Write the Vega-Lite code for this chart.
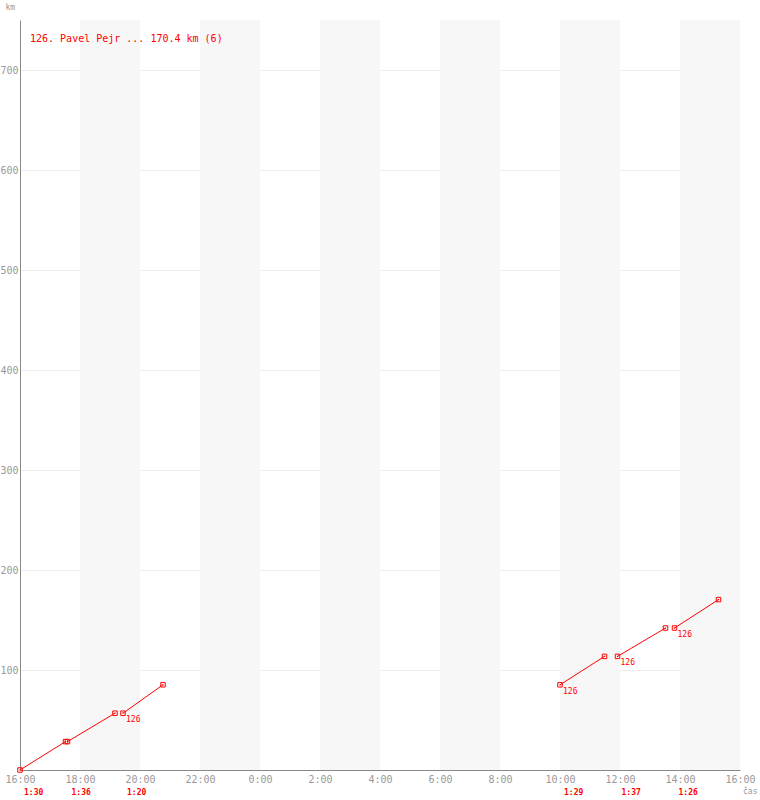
{
  "$schema": "https://vega.github.io/schema/vega-lite/v6.json",
  "width": 720,
  "height": 750,
  "autosize": {"type": "none"},
  "padding": {"left": 20, "top": 20, "right": 20, "bottom": 30},
  "background": "white",
  "config": {
    "font": "DejaVu Sans Mono",
    "view": {"stroke": null}
  },
  "title": {
    "text": "126. Pavel Pejr ... 170.4 km (6)",
    "anchor": "start",
    "frame": "group",
    "offset": -41,
    "dx": 10,
    "font": "DejaVu Sans Mono",
    "fontSize": 10,
    "fontWeight": "normal",
    "color": "#ff0000"
  },
  "datasets": {
    "bands": [
      {"time": "2024-05-04T18:00:00Z", "end": "2024-05-04T20:00:00Z"},
      {"time": "2024-05-04T22:00:00Z", "end": "2024-05-05T00:00:00Z"},
      {"time": "2024-05-05T02:00:00Z", "end": "2024-05-05T04:00:00Z"},
      {"time": "2024-05-05T06:00:00Z", "end": "2024-05-05T08:00:00Z"},
      {"time": "2024-05-05T10:00:00Z", "end": "2024-05-05T12:00:00Z"},
      {"time": "2024-05-05T14:00:00Z", "end": "2024-05-05T16:00:00Z"}
    ],
    "track": [
      {"lap": 1, "time": "2024-05-04T16:00:00Z", "km": 0},
      {"lap": 1, "time": "2024-05-04T17:31:00Z", "km": 28.4},
      {"lap": 2, "time": "2024-05-04T17:35:00Z", "km": 28.4},
      {"lap": 2, "time": "2024-05-04T19:10:00Z", "km": 56.8},
      {"lap": 3, "time": "2024-05-04T19:26:00Z", "km": 56.8},
      {"lap": 3, "time": "2024-05-04T20:46:00Z", "km": 85.2},
      {"lap": 4, "time": "2024-05-05T10:00:00Z", "km": 85.2},
      {"lap": 4, "time": "2024-05-05T11:29:00Z", "km": 113.6},
      {"lap": 5, "time": "2024-05-05T11:55:00Z", "km": 113.6},
      {"lap": 5, "time": "2024-05-05T13:31:00Z", "km": 142},
      {"lap": 6, "time": "2024-05-05T13:49:00Z", "km": 142},
      {"lap": 6, "time": "2024-05-05T15:17:00Z", "km": 170.4}
    ],
    "restarts": [
      {"time": "2024-05-04T19:26:00Z", "km": 56.8, "label": "126"},
      {"time": "2024-05-05T10:00:00Z", "km": 85.2, "label": "126"},
      {"time": "2024-05-05T11:55:00Z", "km": 113.6, "label": "126"},
      {"time": "2024-05-05T13:49:00Z", "km": 142, "label": "126"}
    ],
    "laps": [
      {"time": "2024-05-04T16:00:00Z", "duration": "1:30"},
      {"time": "2024-05-04T17:35:00Z", "duration": "1:36"},
      {"time": "2024-05-04T19:26:00Z", "duration": "1:20"},
      {"time": "2024-05-05T10:00:00Z", "duration": "1:29"},
      {"time": "2024-05-05T11:55:00Z", "duration": "1:37"},
      {"time": "2024-05-05T13:49:00Z", "duration": "1:26"}
    ]
  },
  "encoding": {
    "x": {
      "field": "time",
      "type": "temporal",
      "scale": {
        "type": "utc",
        "domain": [
          {"year": 2024, "month": 5, "date": 4, "hours": 16, "utc": true},
          {"year": 2024, "month": 5, "date": 5, "hours": 16, "utc": true}
        ]
      },
      "axis": {
        "title": "čas",
        "titleFont": "DejaVu Sans Mono",
        "titleFontSize": 8,
        "titleFontWeight": "normal",
        "titleColor": "#999999",
        "titleAlign": "right",
        "titleX": 737,
        "titleY": 17,
        "labelExpr": "utcFormat(datum.value, '%-H:%M')",
        "values": [
          {"year": 2024, "month": 5, "date": 4, "hours": 16, "utc": true},
          {"year": 2024, "month": 5, "date": 4, "hours": 18, "utc": true},
          {"year": 2024, "month": 5, "date": 4, "hours": 20, "utc": true},
          {"year": 2024, "month": 5, "date": 4, "hours": 22, "utc": true},
          {"year": 2024, "month": 5, "date": 5, "hours": 0, "utc": true},
          {"year": 2024, "month": 5, "date": 5, "hours": 2, "utc": true},
          {"year": 2024, "month": 5, "date": 5, "hours": 4, "utc": true},
          {"year": 2024, "month": 5, "date": 5, "hours": 6, "utc": true},
          {"year": 2024, "month": 5, "date": 5, "hours": 8, "utc": true},
          {"year": 2024, "month": 5, "date": 5, "hours": 10, "utc": true},
          {"year": 2024, "month": 5, "date": 5, "hours": 12, "utc": true},
          {"year": 2024, "month": 5, "date": 5, "hours": 14, "utc": true},
          {"year": 2024, "month": 5, "date": 5, "hours": 16, "utc": true}
        ],
        "ticks": false,
        "grid": false,
        "domainColor": "#888888",
        "labelFont": "DejaVu Sans Mono",
        "labelFontSize": 10,
        "labelColor": "#999999",
        "labelPadding": 4,
        "labelDx": 4,
        "labelOverlap": false,
        "labelBound": false,
        "labelFlush": false
      }
    }
  },
  "layer": [
    {
      "data": {"name": "bands"},
      "mark": {"type": "rect", "color": "#f7f7f7"},
      "encoding": {
        "x2": {"field": "end"}
      }
    },
    {
      "data": {"name": "track"},
      "mark": {"type": "line", "color": "#ff0000", "strokeWidth": 1},
      "encoding": {
        "y": {
          "field": "km",
          "type": "quantitative",
          "scale": {"domain": [0, 750], "nice": false},
          "axis": {
            "title": "km",
            "titleFont": "DejaVu Sans Mono",
            "titleFontSize": 8,
            "titleFontWeight": "normal",
            "titleColor": "#999999",
            "titleAngle": 0,
            "titleAlign": "left",
            "titleBaseline": "middle",
            "titleX": -15,
            "titleY": -13,
            "values": [100, 200, 300, 400, 500, 600, 700],
            "ticks": false,
            "grid": true,
            "gridColor": "#eeeeee",
            "domainColor": "#888888",
            "labelFont": "DejaVu Sans Mono",
            "labelFontSize": 10,
            "labelColor": "#999999",
            "labelPadding": 2
          }
        },
        "detail": {"field": "lap", "type": "nominal"}
      }
    },
    {
      "data": {"name": "track"},
      "mark": {"type": "point", "shape": "square", "size": 20, "filled": false, "stroke": "#ff0000", "strokeWidth": 1, "opacity": 1},
      "encoding": {
        "y": {"field": "km", "type": "quantitative"}
      }
    },
    {
      "data": {"name": "track"},
      "mark": {"type": "point", "shape": "square", "size": 1.5, "filled": true, "color": "#ff0000", "opacity": 1},
      "encoding": {
        "y": {"field": "km", "type": "quantitative"}
      }
    },
    {
      "data": {"name": "restarts"},
      "mark": {"type": "text", "align": "left", "baseline": "middle", "dx": 3, "dy": 7, "font": "DejaVu Sans Mono", "fontSize": 8, "color": "#ff0000"},
      "encoding": {
        "y": {"field": "km", "type": "quantitative"},
        "text": {"field": "label"}
      }
    },
    {
      "data": {"name": "laps"},
      "mark": {"type": "text", "align": "left", "baseline": "middle", "dx": 4, "dy": 23, "font": "DejaVu Sans Mono", "fontSize": 8, "fontWeight": "bold", "color": "#ff0000"},
      "encoding": {
        "y": {"datum": 0},
        "text": {"field": "duration"}
      }
    }
  ]
}
